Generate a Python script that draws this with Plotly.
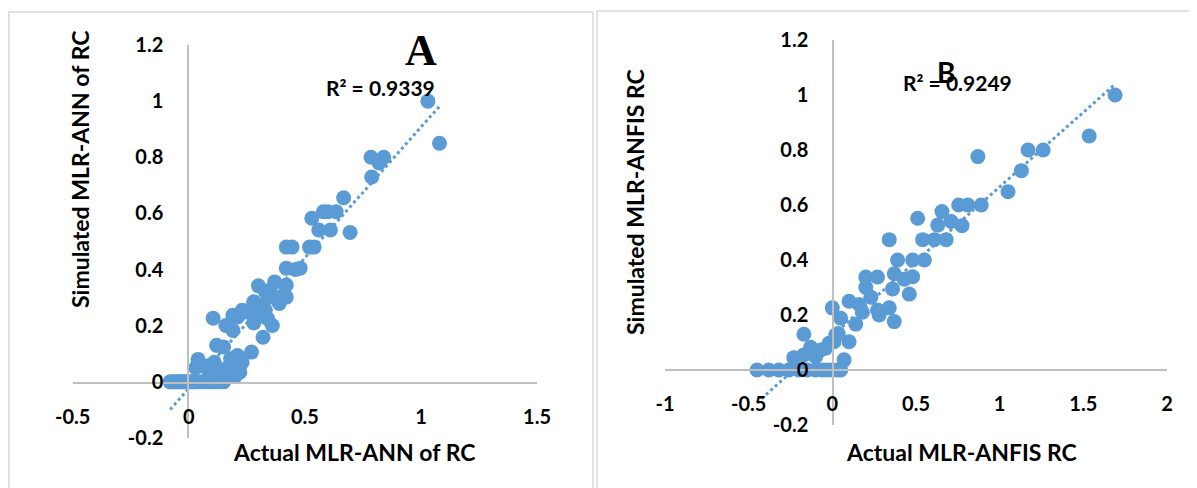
import numpy as np
import plotly.graph_objects as go

W, H = 1197, 488

# ---------------- data ----------------
a_actual = [-0.08, -0.07, -0.06, -0.05, -0.04, -0.03, -0.02, -0.01, 0.0, 0.01, 0.02, 0.03, 0.05, 0.07, 0.09, 0.11, 0.13, 0.15,
            0.09, 0.145, 0.22, 0.2, 0.03, 0.06, 0.04, 0.09, 0.11, 0.16, 0.18, 0.18, 0.2, 0.22, 0.23, 0.21, 0.27, 0.12, 0.15,
            0.105, 0.16, 0.19, 0.21, 0.19, 0.24, 0.23, 0.27, 0.28, 0.28, 0.33, 0.36, 0.32, 0.34, 0.33, 0.32, 0.3, 0.35, 0.37,
            0.42, 0.37, 0.4, 0.42, 0.39, 0.33, 0.41, 0.28,
            0.42, 0.46, 0.48, 0.42, 0.445, 0.52, 0.54, 0.53, 0.56, 0.61, 0.695, 0.58, 0.6, 0.635, 0.667, 0.788, 0.785, 0.84,
            0.82, 1.03, 1.08]
a_sim = [0, 0, 0, 0, 0, 0, 0, 0, 0, 0, 0, 0, 0, 0, 0, 0, 0, 0,
         0.03, 0.034, 0.034, 0.02, 0.05, 0.058, 0.08, 0.058, 0.07, 0.046, 0.052, 0.082, 0.082, 0.058, 0.07, 0.094, 0.106, 0.13, 0.124,
         0.227, 0.201, 0.183, 0.231, 0.237, 0.249, 0.255, 0.243, 0.279, 0.285, 0.231, 0.201, 0.159, 0.225, 0.255, 0.274, 0.342, 0.326, 0.356,
         0.345, 0.30, 0.302, 0.302, 0.279, 0.32, 0.31, 0.21,
         0.405, 0.4, 0.405, 0.48, 0.48, 0.48, 0.48, 0.583, 0.541, 0.541, 0.532, 0.606, 0.606, 0.606, 0.656, 0.73, 0.8, 0.8,
         0.78, 1.0, 0.85]

b_actual = [-0.45, -0.38, -0.32, -0.26, -0.2, -0.15, -0.1, -0.06, -0.03, 0.0, 0.03, 0.05,
            -0.17, -0.23, -0.17, -0.13, -0.1, -0.07, -0.04, -0.02, 0.01, 0.02, 0.035, 0.1, 0.07,
            0.0, 0.05, 0.1, 0.16, 0.14, 0.18, 0.2, 0.2, 0.23, 0.27, 0.27, 0.28, 0.34, 0.37, 0.36, 0.37, 0.43, 0.48, 0.46,
            0.34, 0.39, 0.48, 0.55,
            0.54, 0.61, 0.68, 0.51, 0.63, 0.71, 0.775, 0.655, 0.755, 0.81, 0.89, 0.87, 1.05, 1.13, 1.17, 1.26, 1.535, 1.69]
b_sim = [0, 0, 0, 0, 0, 0, 0, 0, 0, 0, 0, 0,
         0.13, 0.045, 0.055, 0.083, 0.048, 0.073, 0.079, 0.097, 0.103, 0.127, 0.133, 0.103, 0.037,
         0.226, 0.188, 0.25, 0.238, 0.167, 0.21, 0.3, 0.338, 0.265, 0.338, 0.218, 0.2, 0.226, 0.176, 0.295, 0.35, 0.33, 0.339, 0.276,
         0.474, 0.4, 0.4, 0.4,
         0.474, 0.474, 0.474, 0.552, 0.527, 0.54, 0.525, 0.576, 0.6, 0.6, 0.6, 0.776, 0.648, 0.725, 0.8, 0.8, 0.851, 1.0]

a_xticks = [-0.5, 0, 0.5, 1, 1.5]
a_yticks = [-0.2, 0, 0.2, 0.4, 0.6, 0.8, 1, 1.2]
b_xticks = [-1, -0.5, 0, 0.5, 1, 1.5, 2]
b_yticks = [-0.2, 0, 0.2, 0.4, 0.6, 0.8, 1, 1.2]

a_r2_label = "R² = 0.9339"
b_r2_label = "R² = 0.9249"
a_xtitle = "Actual MLR-ANN of RC"
a_ytitle = "Simulated MLR-ANN of RC"
b_xtitle = "Actual MLR-ANFIS RC"
b_ytitle = "Simulated MLR-ANFIS RC"

# ---------------- styling ----------------
BLUE = "#5B9BD5"
AXC = "#BFBFBF"
FONT = "Lato"
OFF = 8  # page body margin offset


def px(x):
    return (x - OFF) / W


def py(y):
    return 1 - (y - OFF) / H


fig = go.Figure()


def add_panel(xs, ys, xa, ya):
    fig.add_trace(go.Scatter(x=xs, y=ys, mode="markers", xaxis=xa, yaxis=ya,
                             marker=dict(size=15, color=BLUE, line=dict(width=0)),
                             showlegend=False, hoverinfo="x+y"))
    xs_np = np.array(xs)
    m, c = np.polyfit(xs_np, np.array(ys), 1)
    lx = np.array([xs_np.min(), xs_np.max()])
    fig.add_trace(go.Scatter(x=lx, y=m * lx + c, mode="lines", xaxis=xa, yaxis=ya,
                             line=dict(color=BLUE, width=3, dash="dot"),
                             showlegend=False, hoverinfo="skip"))


add_panel(a_actual, a_sim, "x", "y")
add_panel(b_actual, b_sim, "x2", "y2")

tickfont = dict(family=FONT, size=20, color="black", weight="bold")


def axis_common(tickvals, rng):
    return dict(range=rng, tickvals=tickvals, ticktext=[f"{v:g}" for v in tickvals],
                showgrid=False, zeroline=False, showline=True, linecolor=AXC, linewidth=1.5,
                ticks="", tickfont=tickfont, fixedrange=True, automargin=False)


# panel geometry (pixels)
A_x0, A_x1, A_y0, A_y1 = 72.7, 537, 438, 45
B_x0, B_x1, B_y0, B_y1 = 665, 1167, 425, 40

fig.update_layout(
    width=W, height=H, margin=dict(l=0, r=0, t=0, b=0, autoexpand=False),
    paper_bgcolor="white", plot_bgcolor="rgba(0,0,0,0)",
    xaxis=dict(**axis_common(a_xticks, [-0.5, 1.5]), domain=[px(A_x0), px(A_x1)],
               anchor="free", position=py(383), ticklabelstandoff=16),
    yaxis=dict(**axis_common(a_yticks, [-0.2, 1.2]), domain=[py(A_y0), py(A_y1)],
               anchor="free", position=px(188), ticklabelstandoff=20),
    xaxis2=dict(**axis_common(b_xticks, [-1, 2]), domain=[px(B_x0), px(B_x1)],
                anchor="free", position=py(370), ticklabelstandoff=16),
    yaxis2=dict(**axis_common(b_yticks, [-0.2, 1.2]), domain=[py(B_y0), py(B_y1)],
                anchor="free", position=px(833), ticklabelstandoff=20),
)

titlefont = dict(family=FONT, size=23, color="black", weight="bold")
r2font = dict(family=FONT, size=21, color="black", weight="bold")
ann = [
    dict(x=px(354), y=py(452), text=a_xtitle, font=titlefont),
    dict(x=px(80), y=py(170), text=a_ytitle, font=titlefont, textangle=-90),
    dict(x=px(961), y=py(452), text=b_xtitle, font=titlefont),
    dict(x=px(635), y=py(202), text=b_ytitle, font=titlefont, textangle=-90),
    dict(x=px(380), y=py(87), text=a_r2_label, font=r2font),
    dict(x=px(957), y=py(83), text=b_r2_label, font=r2font),
    dict(x=px(421), y=py(50), text="A", font=dict(family="Liberation Serif", size=44, color="black", weight="bold")),
    dict(x=px(946), y=py(72), text="B", font=dict(family=FONT, size=28, color="black", weight="bold")),
]
for a in ann:
    a.update(xref="paper", yref="paper", showarrow=False, xanchor="center", yanchor="middle")
fig.update_layout(annotations=ann)

# chart-area frames
fig.update_layout(shapes=[
    dict(type="rect", xref="paper", yref="paper", x0=px(9), x1=px(593), y0=py(500), y1=py(12),
         line=dict(color="#D9D9D9", width=1.5), layer="below"),
    dict(type="rect", xref="paper", yref="paper", x0=px(597), x1=px(1210), y0=py(500), y1=py(11),
         line=dict(color="#D9D9D9", width=1.5), layer="below"),
])

fig.write_html("out.html")
